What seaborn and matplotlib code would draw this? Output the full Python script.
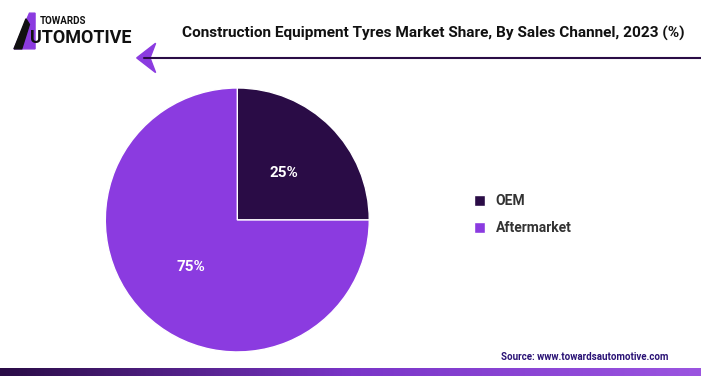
import numpy as np
import matplotlib
matplotlib.use("Agg")
from matplotlib import pyplot as plt
from matplotlib.patches import Polygon
import seaborn as sns

channels = ["OEM", "Aftermarket"]
shares = [25, 75]
colors = ["#2a0c46", "#8b3be0"]

sns.set_theme(style="white")
plt.rcParams['font.family'] = ['Roboto', 'DejaVu Sans']

fig = plt.figure(figsize=(7.01, 3.76), dpi=100)

# pie
ax = fig.add_axes([0.150, 0.064, 0.377, 0.702])
wedges, _, autotexts = ax.pie(shares, colors=colors, startangle=90, counterclock=False,
                              autopct='%d%%', pctdistance=0.5,
                              textprops=dict(color='white', fontsize=11, fontweight='bold'))
ax.set_xlim(-1, 1)
ax.set_ylim(-1, 1)
ax.set_aspect('equal')

# legend
ax.legend(wedges, channels, loc='center left', bbox_to_anchor=(1.35, 0.52),
          frameon=False, handlelength=0.8, handleheight=0.8, labelspacing=0.95,
          handletextpad=0.75, prop=dict(size=10, weight='bold'), labelcolor='#333333')

# title
fig.text(0.977, 0.912, "Construction Equipment Tyres Market Share, By Sales Channel, 2023 (%)",
         ha='right', va='center', fontsize=11.1, fontweight='bold', color='#111111')

# logo
fig.text(0.056, 0.943, "TOWARDS", fontsize=7, fontweight='bold', color='#111111', va='center')
fig.text(0.043, 0.898, "UTOMOTIVE", fontsize=13, fontweight='bold', color='#111111', va='center')
fig.add_artist(Polygon([(0.020, 0.870), (0.042, 0.965), (0.050, 0.965), (0.050, 0.870)],
                       closed=True, transform=fig.transFigure, color='#8b3be0'))
fig.add_artist(Polygon([(0.020, 0.870), (0.031, 0.870), (0.042, 0.935), (0.037, 0.950)],
                       closed=True, transform=fig.transFigure, color='#111111'))

# arrow line
fig.add_artist(plt.Line2D([0.205, 1.0], [0.846, 0.846], transform=fig.transFigure,
                          color='#2a0c46', lw=1.5))
fig.add_artist(Polygon([(0.195, 0.846), (0.222, 0.885), (0.214, 0.846), (0.222, 0.807)],
                       closed=True, transform=fig.transFigure, color='#8b3be0'))

# source
fig.text(0.953, 0.050, "Source: www.towardsautomotive.com", ha='right', va='center',
         fontsize=7, fontweight='bold', color='#2a1275')

# bottom gradient bar
grad = np.linspace(0, 1, 256).reshape(1, -1)
bax = fig.add_axes([0, 0, 1, 0.022])
cmap = matplotlib.colors.LinearSegmentedColormap.from_list('g', ['#2a0c46', '#7a35c8', '#9b55e0'])
bax.imshow(grad, aspect='auto', cmap=cmap)
bax.axis('off')

fig.savefig("out.png", dpi=100)
